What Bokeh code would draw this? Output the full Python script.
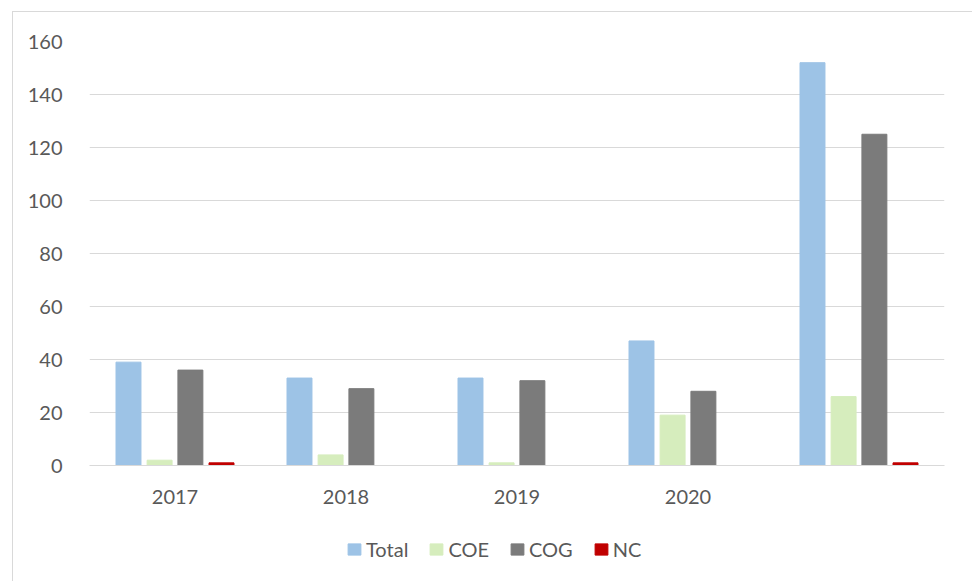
from bokeh.plotting import figure
from bokeh.models import ColumnDataSource, FactorRange, Legend, LegendItem, SingleIntervalTicker, Range1d
from bokeh.layouts import column
from bokeh.transform import dodge
from bokeh.embed import file_html
from bokeh.resources import INLINE

categories = ["2017", "2018", "2019", "2020", " "]
total = [39, 33, 33, 47, 152]
coe = [2, 4, 1, 19, 26]
cog = [36, 29, 32, 28, 125]
nc = [1, 0, 0, 0, 1]
series_names = ["Total", "COE", "COG", "NC"]
colors = ["#9dc3e6", "#d6edbd", "#7b7b7b", "#c00000"]

src = ColumnDataSource(dict(cat=categories, Total=total, COE=coe, COG=cog, NC=nc))

FONT = "Lato"
p = figure(x_range=FactorRange(*categories), y_range=(0, 160),
           width=959, height=498, output_backend="svg", toolbar_location=None,
           min_border_left=76, min_border_right=28, min_border_top=29, min_border_bottom=45)
p.x_range.range_padding = 0
p.outline_line_color = None
p.background_fill_color = "white"

offsets = [-0.272, -0.09, 0.09, 0.272]
for name, col, off in zip(series_names, colors, offsets):
    p.vbar(x=dodge("cat", off, range=p.x_range), top=name, width=0.146,
           source=src, fill_color=col, line_color=col)

p.yaxis.ticker = SingleIntervalTicker(interval=20)
p.ygrid.ticker = SingleIntervalTicker(interval=20)
p.ygrid.grid_line_color = "#d9d9d9"
p.ygrid.grid_line_width = 1
p.xgrid.grid_line_color = None

for ax in (p.xaxis, p.yaxis):
    ax.major_label_text_font = FONT
    ax.major_label_text_font_size = "20px"
    ax.major_label_text_color = "#595959"
    ax.major_tick_line_color = None
    ax.minor_tick_line_color = None
    ax.major_tick_out = 0
    ax.major_tick_in = 0
p.yaxis.axis_line_color = None
p.xaxis.axis_line_color = "#d9d9d9"
p.yaxis.major_label_standoff = 23
p.xaxis.major_label_standoff = 18

# legend strip (its bars lie outside the visible y range; only the legend shows)
pl = figure(width=959, height=71, output_backend="svg", toolbar_location=None,
            x_axis_type=None, y_axis_type=None,
            x_range=FactorRange(*categories), y_range=Range1d(1000, 1001),
            min_border_left=0, min_border_right=0, min_border_top=0, min_border_bottom=0)
pl.outline_line_color = None
pl.xgrid.grid_line_color = None
pl.ygrid.grid_line_color = None
items = []
for name, col in zip(series_names, colors):
    r = pl.vbar(x="cat", top=name, width=0.1, source=src, fill_color=col, line_color=col)
    items.append(LegendItem(label=name, renderers=[r]))
legend = Legend(items=items, orientation="horizontal", location=(257, 20),
                label_text_font=FONT, label_text_font_size="20px",
                label_text_color="#595959", glyph_width=16, glyph_height=14,
                spacing=20, label_standoff=4, border_line_color=None,
                background_fill_alpha=0, margin=0, padding=4)
pl.add_layout(legend, "center")

layout = column(p, pl, spacing=0, margin=(12, 0, 0, 13),
                styles={"outline": "1px solid #d9d9d9"})

open("out.html", "w").write(file_html(layout, INLINE))
